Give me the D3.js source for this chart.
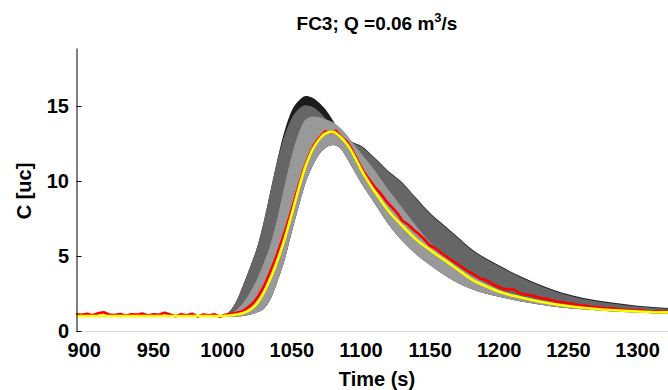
<!DOCTYPE html>
<html>
<head>
<meta charset="utf-8">
<script src="https://d3js.org/d3.v7.min.js"></script>
<style>
    body { margin: 0; background: #fff; }
    text { font-family: Arial, "Liberation Sans", Helvetica, sans-serif; font-weight: bold; fill: #000; }
</style>
</head>
<body>
<svg id="chart" width="668" height="390"></svg>
<script>

// time grid for the envelopes / model curve
var bandTime = [894, 990, 1000, 1005, 1010, 1015, 1020, 1025, 1030, 1035, 1040, 1045, 1050, 1055,
    1060, 1065, 1070, 1075, 1080, 1085, 1090, 1095, 1100, 1110, 1120, 1130, 1140, 1150, 1160,
    1170, 1180, 1190, 1200, 1215, 1230, 1245, 1260, 1280, 1300, 1322];

var blackUpper = [1.0, 1.0, 1.05, 1.3, 2.0, 3.1, 4.3, 5.6, 7.4, 9.5, 11.6, 13.4, 14.7, 15.35,
    15.67, 15.55, 15.2, 14.7, 14.0, 13.3, 12.85, 12.55, 12.36, 11.56, 10.66, 9.91, 8.86, 7.86, 7.06,
    6.26, 5.46, 4.86, 4.36, 3.66, 3.06, 2.56, 2.21, 1.91, 1.69, 1.54];

var darkUpper = [1.0, 1.0, 1.05, 1.3, 2.0, 3.1, 4.3, 5.6, 7.4, 9.5, 11.5, 13.1, 14.2, 14.8,
    15.05, 14.95, 14.6, 14.1, 13.6, 13.1, 12.8, 12.5, 12.3, 11.5, 10.6, 9.85, 8.8, 7.8, 7.0,
    6.2, 5.4, 4.8, 4.3, 3.6, 3.0, 2.5, 2.15, 1.85, 1.63, 1.48];

var lightUpper = [1.0, 1.0, 1.0, 1.1, 1.4, 1.9, 2.6, 3.5, 4.6, 5.9, 7.7, 9.8, 11.7, 13.2,
    14.1, 14.3, 14.25, 14.1, 13.9, 13.55, 13.05, 12.45, 11.85, 10.7, 9.4, 8.2, 7.0, 5.9, 5.0,
    4.3, 3.7, 3.2, 2.75, 2.3, 1.95, 1.7, 1.5, 1.35, 1.25, 1.18];

var lowerBound = [1.0, 0.95, 0.95, 0.95, 0.97, 1.0, 1.1, 1.25, 1.5, 2.2, 3.4, 4.8, 6.6, 8.3,
    9.9, 11.0, 11.8, 12.25, 12.4, 12.2, 11.5, 10.7, 9.9, 8.5, 7.1, 6.0, 5.1, 4.4, 3.75,
    3.2, 2.8, 2.5, 2.28, 1.98, 1.75, 1.57, 1.45, 1.32, 1.23, 1.15];

var modelC = [1.0, 1.0, 1.0, 1.03, 1.1, 1.2, 1.42, 1.85, 2.6, 3.6, 4.8, 6.2, 7.8, 9.5,
    11.0, 12.1, 12.8, 13.2, 13.28, 12.95, 12.45, 11.7, 10.8, 9.3, 8.0, 7.0, 6.1, 5.4, 4.75,
    4.1, 3.45, 3.0, 2.62, 2.25, 1.95, 1.72, 1.55, 1.4, 1.3, 1.24];

// measured concentration, one sample every 4 s from 894 s
var obsStart = 894, obsStep = 4;
var obsC = [1.12, 1.08, 1.15, 1.05, 1.18, 1.25, 1.10, 1.06, 1.14, 1.02,
    1.12, 1.09, 1.16, 1.04, 1.12, 1.08, 1.22, 1.10, 0.98, 1.12,
    1.05, 1.15, 0.96, 1.10, 1.04, 1.12, 0.95, 1.08, 1.15, 1.22,
    1.30, 1.55, 1.85, 2.35, 3.0, 3.85, 4.75, 5.8, 6.9, 8.1,
    9.4, 10.6, 11.6, 12.4, 12.9, 13.3, 13.2, 13.35, 12.9, 12.6,
    12.0, 11.3, 10.6, 10.1, 9.6, 9.2, 8.7, 8.3, 7.9, 7.35,
    7.1, 6.75, 6.45, 6.1, 5.7, 5.5, 5.2, 4.95, 4.7, 4.45,
    4.2, 3.95, 3.75, 3.5, 3.4, 3.2, 3.0, 2.85, 2.75, 2.8,
    2.55, 2.45, 2.4, 2.3, 2.2, 2.15, 2.05, 1.95, 1.92, 1.85,
    1.8, 1.72, 1.7, 1.62, 1.6, 1.55, 1.5, 1.52, 1.45, 1.42,
    1.4, 1.35, 1.38, 1.32, 1.3, 1.35, 1.28, 1.3];

var xTicks = [900, 950, 1000, 1050, 1100, 1150, 1200, 1250, 1300];
var yTicks = [0, 5, 10, 15];

var svg = d3.select('#chart');

var x = d3.scaleLinear().domain([894, 1322]).range([76, 668]);
var y = d3.scaleLinear().domain([0, 18.87]).range([331, 48]);

svg.append('clipPath').attr('id', 'plotclip')
    .append('rect').attr('x', 76).attr('y', 48).attr('width', 592).attr('height', 283);

var plot = svg.append('g').attr('clip-path', 'url(#plotclip)');

function band(upper, colour) {
    var area = d3.area()
        .x(function(d, i){ return x(bandTime[i]); })
        .y0(function(d, i){ return y(lowerBound[i]); })
        .y1(function(d){ return y(d); })
        .curve(d3.curveMonotoneX);
    plot.append('path')
        .datum(upper)
        .attr('d', area)
        .style('fill', colour);
}

band(blackUpper, '#1c1c1c');
band(darkUpper, '#666666');
band(lightUpper, '#999999');

// observed (red)
var obs = obsC.map(function(d, i){ return [obsStart + i * obsStep, d]; });
plot.append('path')
    .datum(obs)
    .attr('d', d3.line()
        .x(function(d){ return x(d[0]); })
        .y(function(d){ return y(d[1]); }))
    .style('fill', 'none')
    .style('stroke', '#ff0000')
    .style('stroke-width', 2.6)
    .style('stroke-linejoin', 'round');

// model (yellow)
plot.append('path')
    .datum(modelC)
    .attr('d', d3.line()
        .x(function(d, i){ return x(bandTime[i]); })
        .y(function(d){ return y(d); })
        .curve(d3.curveMonotoneX))
    .style('fill', 'none')
    .style('stroke', '#ffff00')
    .style('stroke-width', 2.6);

// axes
svg.append('line')
    .attr('x1', 76).attr('x2', 668).attr('y1', 331.5).attr('y2', 331.5)
    .style('stroke', '#d9d9d9').style('stroke-width', 1);

var yAxis = svg.append('g')
    .attr('transform', 'translate(76.5,0)')
    .call(d3.axisRight(y).tickValues(yTicks).tickSize(5).tickSizeOuter(0).tickFormat(''));
yAxis.select('.domain').style('stroke', '#000');
yAxis.selectAll('.tick line').style('stroke', '#000');

svg.selectAll('.ylab')
    .data(yTicks)
    .enter().append('text')
    .attr('x', 69)
    .attr('y', function(d){ return y(d); })
    .attr('dy', '0.36em')
    .attr('text-anchor', 'end')
    .style('font-size', '20px')
    .text(function(d){ return d; });

svg.selectAll('.xlab')
    .data(xTicks)
    .enter().append('text')
    .attr('x', function(d){ return x(d); })
    .attr('y', 357)
    .attr('text-anchor', 'middle')
    .style('font-size', '20px')
    .text(function(d){ return d; });

svg.append('text')
    .attr('x', 377).attr('y', 386)
    .attr('text-anchor', 'middle')
    .style('font-size', '20px')
    .text('Time (s)');

svg.append('text')
    .attr('transform', 'translate(31,191) rotate(-90)')
    .attr('text-anchor', 'middle')
    .style('font-size', '20px')
    .text('C [uc]');

var title = svg.append('text')
    .attr('x', 377).attr('y', 30)
    .attr('text-anchor', 'middle')
    .style('font-size', '19px');
title.append('tspan').text('FC3; Q =0.06 m');
title.append('tspan').attr('dy', -8).style('font-size', '13px').text('3');
title.append('tspan').attr('dy', 8).text('/s');

</script>
</body>
</html>
